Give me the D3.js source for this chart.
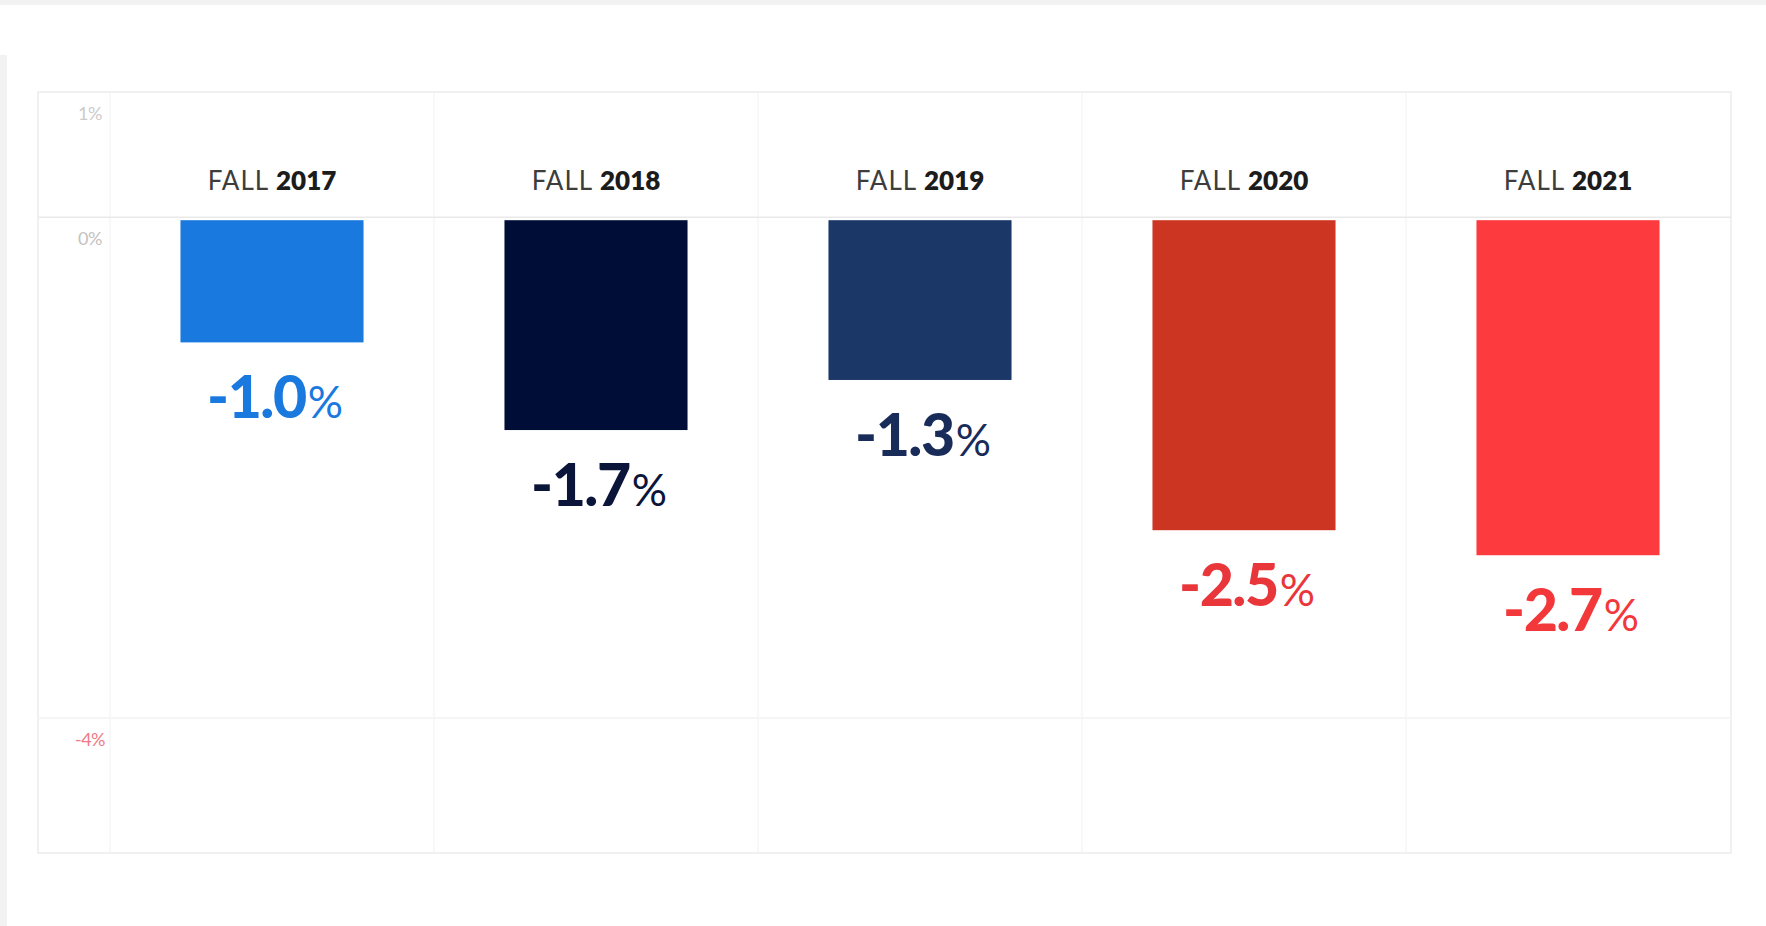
<!DOCTYPE html>
<html>
<head>
<meta charset="utf-8">
<script src="https://cdn.jsdelivr.net/npm/d3@7"></script>
<style>
  html, body { margin: 0; padding: 0; background: #ffffff; }
  svg { display: block; }
</style>
</head>
<body>
<svg id="chart" width="1766" height="926"></svg>
<script>
// Year-over-year enrollment change, fall terms
const terms = ["2017", "2018", "2019", "2020", "2021"];
const changes = [-1.0, -1.7, -1.3, -2.5, -2.7];
const termPrefix = "FALL";
const tickValues = [1, 0, -4];

// Styling
const barColors = ["#1a79df", "#000d36", "#1b3767", "#cc3521", "#fd3a3e"];
const labelColors = ["#1a79df", "#0b1439", "#182b59", "#e8363b", "#f3383c"];
const tickColors = ["#cbcbcb", "#c2c2c2", "#f07a86"];

const W = 1766, H = 926;
const panel = { left: 38, right: 1731, bottom: 853 };
const plot = { left: 110, right: 1730 };
const barGap = 3; // small gap between the zero line and bar tops

const svg = d3.select("#chart");

// page chrome strips
svg.append("rect").attr("x", 0).attr("y", 0).attr("width", W).attr("height", 5).attr("fill", "#f2f2f2");
svg.append("rect").attr("x", 0).attr("y", 55).attr("width", 7).attr("height", H - 55).attr("fill", "#f2f2f2");

const x = d3.scaleBand()
  .domain(terms)
  .range([plot.left, plot.right])
  .paddingInner(0.435)
  .paddingOuter(0.2175);

const y = d3.scaleLinear()
  .domain([1, -4])
  .range([92, 718]);

// panel frame
svg.append("rect")
  .attr("x", panel.left)
  .attr("y", y(1))
  .attr("width", panel.right - panel.left)
  .attr("height", panel.bottom - y(1))
  .attr("fill", "#ffffff")
  .attr("stroke", "#ececec")
  .attr("stroke-width", 1.5);

// vertical column separators
const step = x.step();
const half = (step - x.bandwidth()) / 2;
svg.append("g")
  .selectAll("line")
  .data(terms)
  .join("line")
  .attr("x1", (d) => x(d) - half)
  .attr("x2", (d) => x(d) - half)
  .attr("y1", y(1) + 1)
  .attr("y2", panel.bottom - 1)
  .attr("stroke", "#f8f8f8")
  .attr("stroke-width", 2);

// horizontal gridlines
svg.append("g")
  .selectAll("line")
  .data(tickValues.filter((v) => v !== 1))
  .join("line")
  .attr("x1", panel.left)
  .attr("x2", panel.right)
  .attr("y1", (d) => y(d))
  .attr("y2", (d) => y(d))
  .attr("stroke", (d) => (d === 0 ? "#e9e9e9" : "#f5f5f5"))
  .attr("stroke-width", (d) => (d === 0 ? 1.5 : 2));

// y axis labels
const yAxis = d3.axisLeft(y)
  .tickValues(tickValues)
  .tickFormat((d) => `${d}%`)
  .tickSize(0);

svg.append("g")
  .attr("transform", "translate(90,0)")
  .call(yAxis)
  .call((g) => g.select(".domain").remove())
  .call((g) => g.selectAll(".tick text")
    .attr("x", 0)
    .attr("dy", 27)
    .attr("text-anchor", "middle")
    .attr("font-family", "Lato, 'Noto Sans', sans-serif")
    .attr("font-size", 18)
    .attr("letter-spacing", -0.5)
    .attr("fill", (d, i) => tickColors[i]));

// bars
svg.append("g")
  .selectAll("rect")
  .data(terms)
  .join("rect")
  .attr("x", (d) => x(d))
  .attr("y", y(0) + barGap)
  .attr("width", x.bandwidth())
  .attr("height", (d, i) => y(changes[i]) - y(0) - barGap)
  .attr("fill", (d, i) => barColors[i]);

// term labels above the zero line
const termLabels = svg.append("g")
  .selectAll("text")
  .data(terms)
  .join("text")
  .attr("x", (d) => x(d) + x.bandwidth() / 2)
  .attr("y", y(0) - 27)
  .attr("text-anchor", "middle")
  .attr("font-family", "Lato, 'Noto Sans', sans-serif")
  .attr("font-size", 26);

termLabels.append("tspan")
  .attr("fill", "#3d3d3d")
  .attr("font-weight", 400)
  .attr("letter-spacing", 1)
  .text(termPrefix + " ");
termLabels.append("tspan")
  .attr("fill", "#1c1c1c")
  .attr("font-weight", 800)
  .text((d) => d);

// value labels below each bar
const valueLabels = svg.append("g")
  .selectAll("text")
  .data(terms)
  .join("text")
  .attr("x", (d) => x(d) + x.bandwidth() / 2 + 3)
  .attr("y", (d, i) => y(changes[i]) + 76)
  .attr("text-anchor", "middle")
  .attr("font-family", "Lato, 'Noto Sans', sans-serif")
  .attr("fill", (d, i) => labelColors[i]);

valueLabels.append("tspan")
  .attr("font-size", 59)
  .attr("font-weight", 900)
  .attr("letter-spacing", -1.5)
  .text((d, i) => changes[i].toFixed(1));
valueLabels.append("tspan")
  .attr("font-size", 44)
  .attr("font-weight", 400)
  .attr("dx", 2)
  .text("%");
</script>
</body>
</html>
